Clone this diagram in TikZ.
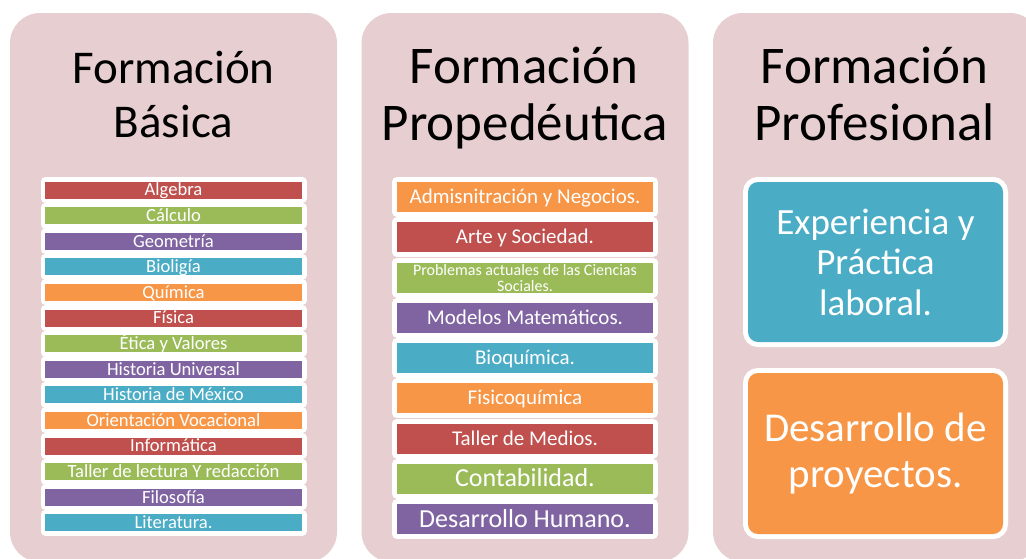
\documentclass[tikz,border=0pt]{standalone}
\usepackage{fontspec}
\setmainfont{Carlito}
\definecolor{panel}{RGB}{231,207,209}
\definecolor{cred}{RGB}{192,80,77}
\definecolor{cgreen}{RGB}{155,187,89}
\definecolor{cpurple}{RGB}{128,100,162}
\definecolor{cblue}{RGB}{75,172,198}
\definecolor{corange}{RGB}{247,150,70}
\begin{document}
\begin{tikzpicture}[x=1pt,y=-1pt,
  panelbox/.style={fill=panel, rounded corners=30pt, minimum width=327pt, minimum height=549pt, inner sep=0pt},
  titletext/.style={anchor=base, inner sep=0pt, text=black},
  barA/.style={fill=#1, text=white, inner sep=0pt, minimum width=257pt, minimum height=17pt,
     text height=11.8pt, text depth=0pt, font=\fontsize{18.6}{20}\selectfont,
     preaction={draw=white, line width=9pt, line join=round}},
  barB/.style={fill=#1, text=white, inner sep=0pt, minimum width=256pt, minimum height=30pt,
     text height=13.3pt, text depth=0pt, font=\fontsize{21}{24}\selectfont,
     preaction={draw=white, line width=10pt, line join=round}},
  bigB/.style={text height=16.4pt, font=\fontsize{26}{30}\selectfont},
  probox/.style={fill=#1, text=white, inner sep=0pt, minimum width=255pt, rounded corners=10pt,
     align=center, preaction={draw=white, line width=10pt, rounded corners=10pt}}
]
\useasboundingbox (0,0) rectangle (1026,558);
\clip (0,0) rectangle (1026,558);
% panels
\node[panelbox] (p1) at (173.5,287.5) {};
\node[panelbox] (p2) at (525,287.5) {};
\node[panelbox] (p3) at (876.5,287.5) {};
% titles
\node[titletext, font=\fontsize{47}{54}\selectfont] (t1a) at (173.5,83) {Formación};
\node[titletext, font=\fontsize{47}{54}\selectfont] (t1b) at (173.5,137) {Básica};
\node[titletext, font=\fontsize{53}{57}\selectfont] (t2a) at (524,83) {Formación};
\node[titletext, font=\fontsize{53}{57}\selectfont] (t2b) at (525,140) {Propedéutica};
\node[titletext, font=\fontsize{53}{57}\selectfont] (t3a) at (874.5,83) {Formación};
\node[titletext, font=\fontsize{53}{57}\selectfont] (t3b) at (874.5,140) {Profesional};
% panel 1 list
\node[barA=cred]    (a1)  at (173.5,190.0) {Algebra};
\node[barA=cgreen]  (a2)  at (173.5,215.6) {Cálculo};
\node[barA=cpurple] (a3)  at (173.5,241.2) {Geometría};
\node[barA=cblue]   (a4)  at (173.5,266.8) {Bioligía};
\node[barA=corange] (a5)  at (173.5,292.4) {Química};
\node[barA=cred]    (a6)  at (173.5,318.0) {Física};
\node[barA=cgreen]  (a7)  at (173.5,343.6) {Ética y Valores};
\node[barA=cpurple] (a8)  at (173.5,369.2) {Historia Universal};
\node[barA=cblue]   (a9)  at (173.5,394.8) {Historia de México};
\node[barA=corange] (a10) at (173.5,420.4) {Orientación Vocacional};
\node[barA=cred]    (a11) at (173.5,446.0) {Informática};
\node[barA=cgreen]  (a12) at (173.5,471.6) {Taller de lectura Y redacción};
\node[barA=cpurple] (a13) at (173.5,497.2) {Filosofía};
\node[barA=cblue]   (a14) at (173.5,522.8) {Literatura.};
% panel 2 list
\node[barB=corange] (b1) at (525,197.0) {Admisnitración y Negocios.};
\node[barB=cred]    (b2) at (525,237.2) {Arte y Sociedad.};
\node[barB=cgreen, text height=, text depth=, font=\fontsize{16}{16}\selectfont, align=center] (b3) at (525,277.5) {Problemas actuales de las Ciencias\\Sociales.};
\node[barB=cpurple] (b4) at (525,317.7) {Modelos Matemáticos.};
\node[barB=cblue]   (b5) at (525,358.0) {Bioquímica.};
\node[barB=corange] (b6) at (525,398.2) {Fisicoquímica};
\node[barB=cred]    (b7) at (525,438.5) {Taller de Medios.};
\node[barB=cgreen, bigB]  (b8) at (525,478.7) {Contabilidad.};
\node[barB=cpurple, bigB] (b9) at (525,519.0) {Desarrollo Humano.};
% panel 3 boxes
\node[probox=cblue, minimum height=160pt, font=\fontsize{37}{40.5}\selectfont] (c1) at (875.5,262) {Experiencia y\\Práctica\\laboral.};
\node[probox=corange, minimum height=161pt, font=\fontsize{41}{46}\selectfont] (c2) at (875.5,453.5) {Desarrollo de\\proyectos.};
\end{tikzpicture}
\end{document}
